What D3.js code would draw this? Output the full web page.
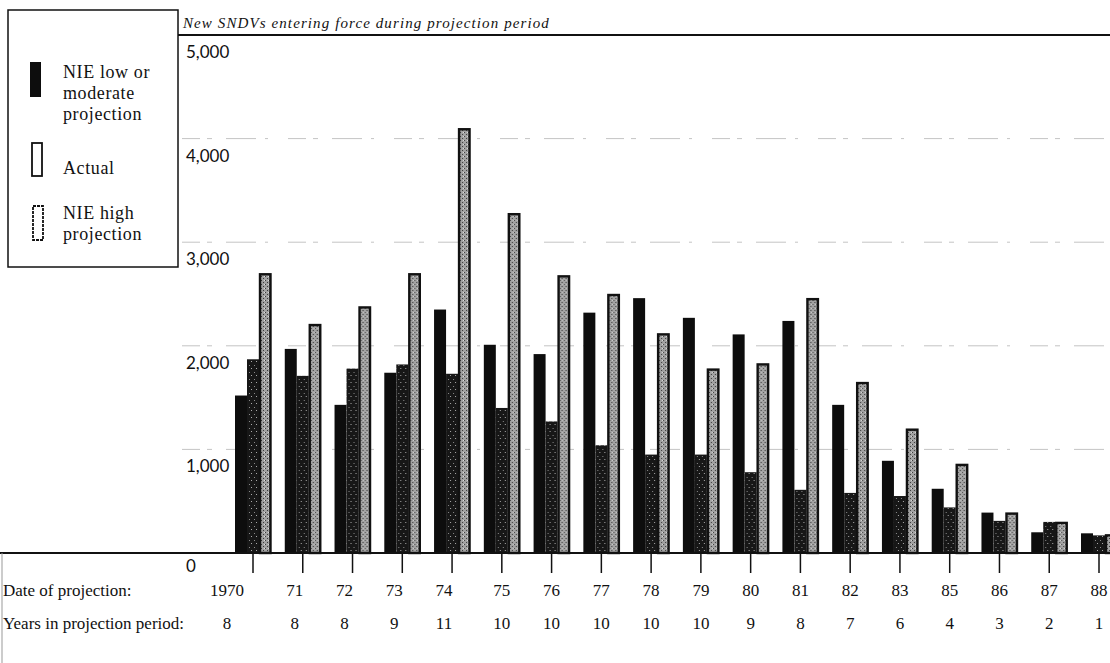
<!DOCTYPE html>
<html>
<head>
<meta charset="utf-8">
<script src="https://cdn.jsdelivr.net/npm/d3@7"></script>
<style>
  body { margin: 0; background: #fff; }
  svg { display: block; }
</style>
</head>
<body>
<div id="chart"></div>
<script>
// Data
var dates = ["1970", "71", "72", "73", "74", "75", "76", "77", "78", "79", "80", "81", "82", "83", "85", "86", "87", "88"];
var yearsInPeriod = ["8", "8", "8", "9", "11", "10", "10", "10", "10", "10", "9", "8", "7", "6", "4", "3", "2", "1"];
var lowProjection = [1520, 1970, 1430, 1740, 2350, 2010, 1920, 2320, 2460, 2270, 2110, 2240, 1430, 890, 620, 390, 200, 190];
var actual = [1870, 1710, 1780, 1820, 1730, 1400, 1270, 1040, 950, 950, 780, 610, 580, 550, 440, 310, 300, 170];
var highProjection = [2700, 2210, 2380, 2700, 4100, 3280, 2680, 2500, 2120, 1780, 1830, 2460, 1650, 1200, 860, 390, 300, 180];
var series = ["low", "actual", "high"];
var yTicks = [0, 1000, 2000, 3000, 4000, 5000];

const width = 1110;
const height = 663;
const baseY = 553;
const topY = 35;

// Scales
const xScale = d3.scalePoint().domain(dates).range([253, 1099]);
const xInner = d3.scaleBand().domain(series).range([-18, 18]);
const yScale = d3.scaleLinear().domain([0, 5000]).range([baseY, topY]);

var rows = dates.map((d, i) => ({
  date: d,
  values: [
    { key: "low", value: lowProjection[i] },
    { key: "actual", value: actual[i] },
    { key: "high", value: highProjection[i] }
  ]
}));

var svg = d3
  .select("#chart")
  .append("svg")
  .attr("width", width)
  .attr("height", height);

// Halftone-ish fills
var defs = svg.append("defs");
var speck = defs.append("pattern")
  .attr("id", "speck")
  .attr("width", 5)
  .attr("height", 7)
  .attr("patternUnits", "userSpaceOnUse");
speck.append("rect").attr("width", 5).attr("height", 7).attr("fill", "#171717");
speck.append("rect").attr("x", 1).attr("y", 1).attr("width", 1).attr("height", 1).attr("fill", "#8a8a8a");
speck.append("rect").attr("x", 3).attr("y", 4).attr("width", 1).attr("height", 1).attr("fill", "#aaa");

var stipple = defs.append("pattern")
  .attr("id", "stipple")
  .attr("width", 4)
  .attr("height", 4)
  .attr("patternUnits", "userSpaceOnUse");
stipple.append("rect").attr("width", 4).attr("height", 4).attr("fill", "#a2a2a2");
stipple.append("rect").attr("x", 0).attr("y", 0).attr("width", 1).attr("height", 1).attr("fill", "#3a3a3a");
stipple.append("rect").attr("x", 2).attr("y", 2).attr("width", 1).attr("height", 1).attr("fill", "#3a3a3a");
stipple.append("rect").attr("x", 3).attr("y", 0).attr("width", 1).attr("height", 1).attr("fill", "#ddd");

// Gridlines (faint, broken)
svg.append("g")
  .selectAll("line")
  .data(yTicks.filter(d => d > 0 && d < 5000))
  .join("line")
  .attr("x1", 182)
  .attr("x2", width)
  .attr("y1", d => yScale(d))
  .attr("y2", d => yScale(d))
  .attr("stroke", "#c4c4c4")
  .attr("stroke-width", 1)
  .attr("stroke-dasharray", "18,7,5,14,30,9,3,20");

// Top rule
svg.append("line")
  .attr("x1", 178).attr("x2", width)
  .attr("y1", yScale(5000)).attr("y2", yScale(5000))
  .attr("stroke", "#111").attr("stroke-width", 2.2);

// Y labels sit just below their gridline
svg.append("g")
  .attr("font-family", "Lato, 'Open Sans', sans-serif")
  .attr("font-size", 17)
  .attr("fill", "#111")
  .selectAll("text")
  .data(yTicks)
  .join("text")
  .attr("x", 186)
  .attr("y", d => yScale(d) + (d == 0 ? 19 : 23))
  .text(d => d3.format(",")(d));

// Bars
var groups = svg.append("g")
  .selectAll("g")
  .data(rows)
  .join("g")
  .attr("transform", d => "translate(" + xScale(d.date) + ",0)");

groups.selectAll("rect")
  .data(d => d.values)
  .join("rect")
  .attr("x", d => xInner(d.key) + (d.key == "high" ? 1 : 0))
  .attr("width", d => xInner.bandwidth() - (d.key == "high" ? 1.5 : 0))
  .attr("y", d => yScale(d.value) + (d.key == "high" ? 1 : 0))
  .attr("height", d => baseY - yScale(d.value) - (d.key == "high" ? 1 : 0))
  .attr("fill", d => d.key == "low" ? "#0d0d0d" : d.key == "actual" ? "url(#speck)" : "url(#stipple)")
  .attr("stroke", d => d.key == "high" ? "#111" : "none")
  .attr("stroke-width", 2.4);

// Baseline
svg.append("line")
  .attr("x1", 0).attr("x2", width)
  .attr("y1", baseY).attr("y2", baseY)
  .attr("stroke", "#111").attr("stroke-width", 2);

// Left edge of scan
svg.append("line")
  .attr("x1", 2).attr("x2", 2)
  .attr("y1", baseY).attr("y2", height)
  .attr("stroke", "#999").attr("stroke-width", 1);

// Tick marks under each group
svg.append("g")
  .selectAll("line")
  .data(dates)
  .join("line")
  .attr("x1", d => xScale(d))
  .attr("x2", d => xScale(d))
  .attr("y1", baseY)
  .attr("y2", baseY + 20)
  .attr("stroke", "#111")
  .attr("stroke-width", 1.5);

// Bottom rows
var serif = "'Liberation Serif', 'Times New Roman', serif";
var shiftLeft = d => d == "1970" ? -26 : (xScale(d) < 480 ? -8 : 0);

svg.append("text")
  .attr("x", 3).attr("y", 596)
  .attr("font-family", serif).attr("font-size", 17).attr("fill", "#111")
  .text("Date of projection:");

svg.append("text")
  .attr("x", 3).attr("y", 629)
  .attr("font-family", serif).attr("font-size", 17).attr("fill", "#111")
  .text("Years in projection period:");

svg.append("g")
  .attr("font-family", serif)
  .attr("font-size", 17)
  .attr("fill", "#111")
  .attr("text-anchor", "middle")
  .selectAll("text")
  .data(dates)
  .join("text")
  .attr("x", d => xScale(d) + shiftLeft(d))
  .attr("y", 596)
  .text(d => d);

svg.append("g")
  .attr("font-family", serif)
  .attr("font-size", 17)
  .attr("fill", "#111")
  .attr("text-anchor", "middle")
  .selectAll("text")
  .data(yearsInPeriod)
  .join("text")
  .attr("x", (d, i) => xScale(dates[i]) + shiftLeft(dates[i]))
  .attr("y", 629)
  .text(d => d);

// Title
svg.append("text")
  .attr("x", 183).attr("y", 28)
  .attr("font-family", serif)
  .attr("font-style", "italic")
  .attr("font-size", 15)
  .attr("letter-spacing", 1.1)
  .attr("fill", "#111")
  .text("New SNDVs entering force during projection period");

// Legend
var legendLabels = [["NIE low or", "moderate", "projection"], ["Actual"], ["NIE high", "projection"]];
var legendY = [78, 174, 219];
var legend = svg.append("g");
legend.append("rect")
  .attr("x", 8).attr("y", 10)
  .attr("width", 170).attr("height", 257)
  .attr("fill", "#fff")
  .attr("stroke", "#111")
  .attr("stroke-width", 1.5);

var items = legend.selectAll(".legend")
  .data(legendLabels)
  .join("g")
  .attr("class", "legend")
  .attr("transform", (d, i) => "translate(0," + legendY[i] + ")");

items.append("rect")
  .attr("x", (d, i) => [30, 32, 33][i])
  .attr("y", (d, i) => [-16, -31, -13][i])
  .attr("width", (d, i) => i == 0 ? 11 : 10)
  .attr("height", (d, i) => [35, 33, 34][i])
  .attr("fill", (d, i) => i == 0 ? "#0d0d0d" : "#fff")
  .attr("stroke", "#111")
  .attr("stroke-width", (d, i) => i == 0 ? 0 : 1.8)
  .attr("stroke-dasharray", (d, i) => i == 2 ? "3,1" : null);

items.selectAll("text")
  .data(d => d)
  .join("text")
  .attr("x", 63)
  .attr("y", (d, i) => i * 21)
  .attr("font-family", serif)
  .attr("font-size", 18)
  .attr("letter-spacing", 0.6)
  .attr("fill", "#111")
  .text(d => d);
</script>
</body>
</html>
